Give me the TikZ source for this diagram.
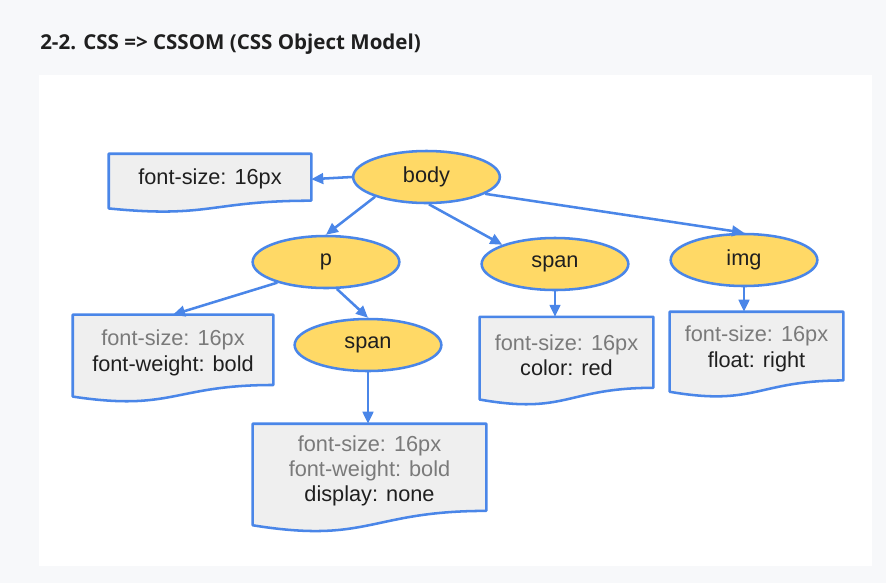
\documentclass[tikz,border=0pt]{standalone}
\usepackage{fontspec}
\setmainfont{Liberation Sans}
\newfontfamily\headfont{Open Sans}
\usepackage{xcolor}
\usepackage{tikz}
\usetikzlibrary{arrows.meta, calc, positioning, shapes.geometric}
\definecolor{linkblue}{HTML}{4A86E8}
\definecolor{ruleyellow}{HTML}{FFD966}
\definecolor{sheetgrey}{HTML}{EFEFEF}
\definecolor{pagegrey}{HTML}{F7F8FA}
\definecolor{inherited}{HTML}{7A7A7A}
\definecolor{inkdark}{HTML}{1F1F1F}
\pgfdeclarelayer{back}
\pgfsetlayers{back,main}
\tikzset{
  elem/.style={ellipse, draw=linkblue, fill=ruleyellow, line width=1.9pt,
    minimum width=110pt, minimum height=39pt, inner sep=0pt, text=inkdark},
  sheet/.style 2 args={rectangle, minimum width=#1, minimum height=#2,
    inner sep=0pt, align=center, text=inkdark},
  sheetline/.style={draw=linkblue, fill=sheetgrey, line width=1.9pt, line join=round},
  link/.style={draw=linkblue, line width=1.9pt, -{Triangle[length=9pt,width=8pt]}},
}
\newcommand\inh[1]{\textcolor{inherited}{#1}}

\begin{document}
\begin{tikzpicture}[x=0.75pt, y=-0.75pt, font=\fontsize{16.3}{19}\selectfont]
  \useasboundingbox (0,0) rectangle (886,583);
  \begin{pgfonlayer}{back}
    \fill[pagegrey] (0,0) rectangle (886,583);
    \fill[white] (39,75) rectangle (872,566);
  \end{pgfonlayer}

  \node[anchor=base west, inner sep=0pt, text=inkdark,
    font=\headfont\bfseries\fontsize{15.4}{18}\selectfont] (title) at (40,49)
    {2-2. CSS => CSSOM (CSS Object Model)};

  % elements
  \node[elem] (body) at (426.5,177) {body};
  \node[elem] (p) at (326,262) {p};
  \node[elem] (span) at (555,264) {span};
  \node[elem] (img) at (744,260) {img};
  \node[elem] (subspan) at (368,345) {span};

  % computed styles
  \node[sheet={151.5pt}{37.8pt}] (fsbody) at (210,179.2) {font-size: 16px};
  \node[sheet={150pt}{56.8pt}] (fsp) at (173,352.8)
    {\inh{font-size: 16px}\\font-weight: bold};
  \node[sheet={129.8pt}{57.4pt}] (fsspan) at (566.5,355.3)
    {\inh{font-size: 16px}\\color: red};
  \node[sheet={129.8pt}{55.5pt}] (fsimg) at (756.5,349)
    {\inh{font-size: 16px}\\float: right};
  \node[sheet={174.8pt}{70.5pt}] (fssub) at (369.5,471)
    {\inh{font-size: 16px}\\\inh{font-weight: bold}\\display: none};

  % wavy sheet outlines
  \begin{pgfonlayer}{back}
    \foreach \s in {fsbody, fsp, fsspan, fsimg, fssub}
      \path[sheetline] (\s.north west) -- (\s.north east)
        -- ($(\s.north east)!0.922!(\s.south east)$)
        .. controls ($(\s.north)!0.922!(\s.south)$) and ($(\s.north)!1.273!(\s.south)$)
        .. ($(\s.north west)!1.074!(\s.south west)$) -- cycle;
  \end{pgfonlayer}

  % tree links
  \draw[link] (body.west) -- (fsbody.east);
  \draw[link] (body.201) -- (p.north);
  \draw[link] (body.-85) -- (span.north west);
  \draw[link] (body.-16) -- (img.north);
  \draw[link] (p.203) -- (fsp.north);
  \draw[link] (p.-68) -- (subspan.north);
  \draw[link] (span.south) -- (span.south |- fsspan.north);
  \draw[link] (img.south) -- (img.south |- fsimg.north);
  \draw[link] (subspan.south) -- (subspan.south |- fssub.north);
\end{tikzpicture}
\end{document}
